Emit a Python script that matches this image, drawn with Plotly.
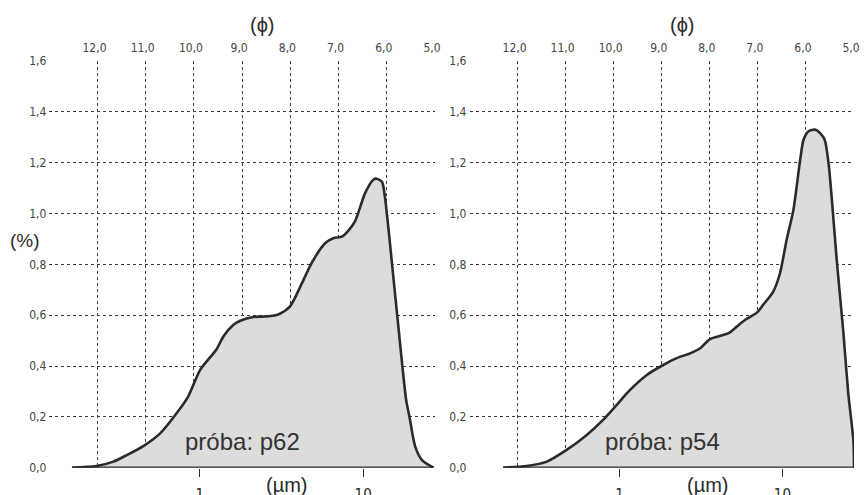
import plotly.graph_objects as go

# ---- data (phi scale, % content) ----
phi_p62 = [12.53, 12.02, 11.67, 11.39, 11.05, 10.70, 10.36, 10.12, 9.87, 9.53, 9.39, 9.18, 9.04,
           8.77, 8.50, 8.25, 8.01, 7.76, 7.56, 7.28, 7.11, 6.93, 6.80, 6.66, 6.45, 6.28, 6.21,
           6.10, 6.04, 5.97, 5.90, 5.76, 5.60, 5.53, 5.41, 5.27, 5.03]
pct_p62 = [0.0, 0.007, 0.024, 0.050, 0.085, 0.135, 0.214, 0.280, 0.385, 0.466, 0.516, 0.562, 0.578,
           0.593, 0.595, 0.603, 0.634, 0.726, 0.805, 0.883, 0.903, 0.909, 0.932, 0.969, 1.080, 1.133, 1.137,
           1.125, 1.067, 0.949, 0.818, 0.555, 0.269, 0.200, 0.083, 0.030, 0.0]

phi_p54 = [12.30, 11.81, 11.39, 10.98, 10.56, 10.22, 9.97, 9.66, 9.31, 8.97, 8.69, 8.41, 8.20,
           8.00, 7.61, 7.44, 7.27, 7.02, 6.89, 6.68, 6.54, 6.40, 6.26, 6.12, 6.05, 5.95, 5.81,
           5.71, 5.61, 5.53, 5.46, 5.36, 5.22, 5.12, 5.05, 5.01, 5.00]
pct_p54 = [0.0, 0.007, 0.024, 0.070, 0.129, 0.188, 0.240, 0.306, 0.365, 0.404, 0.431, 0.450, 0.470,
           0.505, 0.529, 0.555, 0.581, 0.610, 0.641, 0.693, 0.765, 0.898, 1.015, 1.211, 1.290, 1.323, 1.330,
           1.317, 1.290, 1.198, 1.054, 0.818, 0.529, 0.293, 0.175, 0.100, 0.0]

phi_ticks = [13, 12, 11, 10, 9, 8, 7, 6, 5]
phi_ticktext = ["", "12,0", "11,0", "10,0", "9,0", "8,0", "7,0", "6,0", "5,0"]
um_tickvals = [9.88, 6.49]          # positions of 1 µm and 10 µm on the phi scale (as drawn)
um_ticktext = ["1", "10"]
pct_ticks = [0.0, 0.2, 0.4, 0.6, 0.8, 1.0, 1.2, 1.4, 1.6]
samples = ["próba: p62", "próba: p54"]

W, H = 865, 495
NARROW = "Liberation Sans Narrow, DejaVu Sans Condensed, Arial Narrow, sans-serif"
SANS = "Liberation Sans, Arial, sans-serif"
INK = "#2b2b2b"
GRID = "#3a3a3a"
FILL = "#dcdcdc"

panels = [
    dict(phi=phi_p62, pct=pct_p62, x0=49.3, x1=435.0),
    dict(phi=phi_p54, pct=pct_p54, x0=469.5, x1=854.0),
]
ytop, ybot = 61.0, 467.7

fig = go.Figure()
layout = dict(
    width=W, height=H, margin=dict(l=0, r=0, t=0, b=0, autoexpand=False),
    paper_bgcolor="white", plot_bgcolor="white", showlegend=False,
    separators=", ", hovermode=False,
)
ydom = [(H - ybot) / H, (H - ytop) / H]

annotations = []
for i, p in enumerate(panels):
    xb = "x" if i == 0 else f"x{2*i+1}"
    xt = f"x{2*i+2}"
    yy = "y" if i == 0 else f"y{i+1}"
    xb_key = "xaxis" if i == 0 else f"xaxis{2*i+1}"
    xt_key = f"xaxis{2*i+2}"
    y_key = "yaxis" if i == 0 else f"yaxis{i+1}"
    dom = [p["x0"] / W, p["x1"] / W]

    # invisible trace so the top (phi) axis is drawn
    fig.add_trace(go.Scatter(
        x=[phi_ticks[0], phi_ticks[-1]], y=[0, 0], xaxis=xt, yaxis=yy, mode="markers",
        marker=dict(opacity=0, size=1), hoverinfo="skip",
    ))
    fig.add_trace(go.Scatter(
        x=p["phi"], y=p["pct"], xaxis=xb, yaxis=yy, mode="lines",
        line=dict(color=INK, width=2.6, shape="spline", smoothing=0.7),
        fill="tozeroy", fillcolor=FILL, hoverinfo="skip",
    ))
    fig.add_trace(go.Scatter(
        x=[p["phi"][0], p["phi"][-1]], y=[0, 0], xaxis=xb, yaxis=yy, mode="lines",
        line=dict(color=INK, width=2.6), hoverinfo="skip",
    ))

    layout[xb_key] = dict(
        domain=dom, range=[13, 5], anchor=yy, automargin=False,
        tickvals=um_tickvals, ticktext=um_ticktext, ticks="outside", ticklen=8,
        tickcolor=INK, tickwidth=1.2, showgrid=False, zeroline=False, showline=False,
        tickfont=dict(family=NARROW, size=15, color=INK), ticklabelstandoff=5,
        showspikes=False,
    )
    layout[xt_key] = dict(
        domain=dom, range=[13, 5], anchor=yy, overlaying=xb, side="top", automargin=False,
        tickvals=phi_ticks, ticktext=phi_ticktext, ticks="", showgrid=True,
        gridcolor=GRID, griddash="dot", gridwidth=1.2, zeroline=False, showline=False,
        tickfont=dict(family=NARROW, size=12, color="#444"), ticklabelstandoff=6,
        ticklabelshift=3, showspikes=False,
    )
    layout[y_key] = dict(
        domain=ydom, range=[0, 1.6], anchor=xb, automargin=False,
        tickvals=pct_ticks, tickformat=".1f", ticks="", showgrid=True,
        gridcolor=GRID, griddash="dot", gridwidth=1.2, zeroline=False, showline=False,
        tickfont=dict(family=NARROW, size=12, color="#444"), ticklabelstandoff=2,
        showspikes=False,
    )

    annotations += [
        dict(text="(ϕ)", x=(p["x0"] + 213) / W, y=(H - 25) / H,
             font=dict(family=SANS, size=20, color=INK)),
        dict(text="(µm)", x=(p["x0"] + 238) / W, y=(H - 485) / H,
             font=dict(family=SANS, size=20, color=INK)),
        dict(text=samples[i], x=(p["x0"] + 193) / W, y=(H - 441.7) / H,
             font=dict(family=SANS, size=24, color="#333")),
    ]

annotations.append(dict(text="(%)", x=25 / W, y=(H - 240) / H,
                        font=dict(family=SANS, size=19, color=INK)))
for a in annotations:
    a.update(xref="paper", yref="paper", xanchor="center", yanchor="middle", showarrow=False)
layout["annotations"] = annotations
fig.update_layout(**layout)
fig.write_html(
    "out.html",
    config={"displayModeBar": False},
    post_script="document.body.style.margin='0';document.body.style.overflow='hidden';",
)
